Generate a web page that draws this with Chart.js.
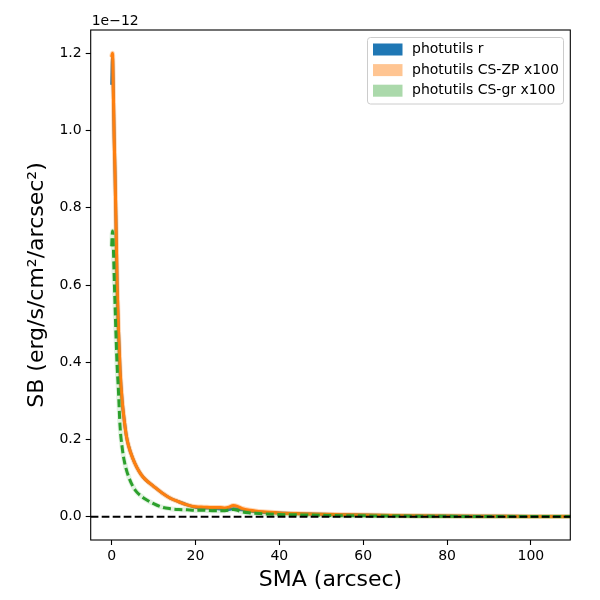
<!DOCTYPE html>
<html>
<head>
<meta charset="utf-8">
<script src="https://cdn.jsdelivr.net/npm/chart.js@4.4.0/dist/chart.umd.min.js"></script>
<style>
  body { margin: 0; background: #fff; }
  #wrap { width: 600px; height: 600px; }
</style>
</head>
<body>
<div id="wrap"><canvas id="sbChart" width="600" height="600"></canvas></div>
<script>
// SMA (arcsec) and surface brightness, SB values in units of 1e-12
var sma  = [0, 0.2, 0.4, 0.6, 0.8, 1.0, 1.3, 1.6, 2.0, 2.5, 3.0, 3.5, 4.0, 5.0, 6.0, 7.0, 8.0,
            10, 12, 14, 16, 18, 20, 22, 24, 26, 27, 28, 29, 30, 31, 33, 36, 40, 45, 50, 55,
            60, 70, 80, 90, 100, 110];
var sbR  = [1.118, 1.19, 1.10, 0.98, 0.89, 0.78, 0.60, 0.49, 0.38, 0.30, 0.25, 0.21, 0.185, 0.152, 0.128, 0.110, 0.097,
            0.079, 0.062, 0.048, 0.039, 0.031, 0.025, 0.023, 0.022, 0.020, 0.019, 0.019, 0.021, 0.020, 0.018, 0.015, 0.012, 0.010, 0.008, 0.0065, 0.0055,
            0.0045, 0.003, 0.002, 0.0015, 0.001, 0.001];
var sbZP = [1.19, 1.20, 1.10, 0.98, 0.89, 0.78, 0.60, 0.49, 0.38, 0.30, 0.25, 0.21, 0.185, 0.152, 0.128, 0.110, 0.097,
            0.079, 0.062, 0.048, 0.039, 0.031, 0.026, 0.025, 0.024, 0.024, 0.023, 0.025, 0.029, 0.027, 0.022, 0.017, 0.013, 0.010, 0.008, 0.0065, 0.0055,
            0.0045, 0.003, 0.002, 0.0015, 0.001, 0.001];
var sbGR = [0.70, 0.74, 0.70, 0.62, 0.55, 0.48, 0.39, 0.33, 0.235, 0.18, 0.145, 0.122, 0.105, 0.080, 0.064, 0.054, 0.046,
            0.034, 0.025, 0.021, 0.019, 0.018, 0.017, 0.017, 0.016, 0.016, 0.016, 0.017, 0.019, 0.017, 0.013, 0.010, 0.008, 0.006, 0.005, 0.004, 0.003,
            0.0025, 0.0018, 0.0012, 0.001, 0.0008, 0.0008];
var xTicks = [0, 20, 40, 60, 80, 100];
var yTicks = [0.0, 0.2, 0.4, 0.6, 0.8, 1.0, 1.2];
var legendLabels = ['photutils r', 'photutils CS-ZP x100', 'photutils CS-gr x100'];

var xMin = -5.0, xMax = 109.4, yMin = -0.060, yMax = 1.260;
var FONT = 'DejaVu Sans';

function pts(ys) {
    return sma.map(function (x, i) { return {x: x, y: ys[i]}; });
}

// frame, offset text and legend drawn on top
var extras = {
    id: 'extras',
    afterDraw: function (chart) {
        var ctx = chart.ctx, a = chart.chartArea;
        ctx.save();
        ctx.strokeStyle = '#000';
        ctx.lineWidth = 1.1;
        ctx.strokeRect(a.left, a.top, a.right - a.left, a.bottom - a.top);

        ctx.fillStyle = '#000';
        ctx.font = '14px "' + FONT + '"';
        ctx.textAlign = 'left';
        ctx.textBaseline = 'alphabetic';
        ctx.fillText('1e\u221212', a.left + 1, a.top - 5);

        // legend
        var lx = 367.5, ly = 37.5, lw = 196, lh = 66.5;
        ctx.beginPath();
        ctx.roundRect(lx, ly, lw, lh, 3);
        ctx.fillStyle = 'rgba(255,255,255,0.8)';
        ctx.fill();
        ctx.strokeStyle = '#cccccc';
        ctx.lineWidth = 1;
        ctx.stroke();
        var patch = ['#1f77b4', 'rgba(255,127,14,0.45)', 'rgba(44,160,44,0.4)'];
        for (var i = 0; i < legendLabels.length; i++) {
            var cy = 49.5 + i * 20.6;
            ctx.fillStyle = patch[i];
            ctx.fillRect(373, cy - 6, 29.5, 12);
            ctx.fillStyle = '#000';
            ctx.textBaseline = 'middle';
            ctx.fillText(legendLabels[i], 412, cy);
        }
        ctx.restore();
    }
};

var tickGrid = {
    display: true,
    drawOnChartArea: false,
    drawTicks: true,
    tickLength: 5,
    tickWidth: 1.1,
    tickColor: '#000'
};

new Chart(document.getElementById('sbChart'), {
    type: 'line',
    data: {
        datasets: [
            {
                label: 'zero',
                data: [{x: xMin, y: 0}, {x: xMax, y: 0}],
                borderColor: '#000',
                borderWidth: 2,
                borderDash: [7.7, 3.3]
            },
            {
                label: legendLabels[2],
                data: pts(sbGR),
                borderColor: '#2ca02c',
                borderWidth: 3,
                borderDash: [8, 3.5]
            },
            {
                label: legendLabels[2] + ' band',
                data: pts(sbGR),
                borderColor: 'rgba(44,160,44,0.14)',
                borderWidth: 5
            },
            {
                label: legendLabels[1],
                data: pts(sbZP),
                borderColor: '#ff7f0e',
                borderWidth: 3
            },
            {
                label: legendLabels[1] + ' band',
                data: pts(sbZP),
                borderColor: 'rgba(255,127,14,0.3)',
                borderWidth: 5
            },
            {
                label: legendLabels[0],
                data: pts(sbR),
                borderColor: '#1f77b4',
                borderWidth: 3
            }
        ]
    },
    options: {
        responsive: false,
        animation: false,
        devicePixelRatio: 1,
        layout: { padding: { top: 30, right: 29.7, left: 0, bottom: 0 } },
        elements: {
            point: { radius: 0 },
            line: { cubicInterpolationMode: 'monotone', fill: false }
        },
        plugins: {
            legend: { display: false },
            tooltip: { enabled: false }
        },
        scales: {
            x: {
                type: 'linear',
                min: xMin,
                max: xMax,
                afterFit: function (s) { s.height = 60; },
                afterBuildTicks: function (s) { s.ticks = xTicks.map(function (v) { return {value: v}; }); },
                border: { display: false },
                grid: tickGrid,
                ticks: {
                    color: '#000',
                    font: { family: FONT, size: 14 },
                    padding: 3,
                    maxRotation: 0,
                    callback: function (v) { return String(v); }
                },
                title: {
                    display: true,
                    text: 'SMA (arcsec)',
                    color: '#000',
                    font: { family: FONT, size: 22 },
                    padding: { top: 0, bottom: 7 }
                }
            },
            y: {
                type: 'linear',
                min: yMin,
                max: yMax,
                afterFit: function (s) { s.width = 90.7; },
                afterBuildTicks: function (s) { s.ticks = yTicks.map(function (v) { return {value: v}; }); },
                border: { display: false },
                grid: tickGrid,
                ticks: {
                    color: '#000',
                    font: { family: FONT, size: 14 },
                    padding: 4,
                    callback: function (v) { return v.toFixed(1); }
                },
                title: {
                    display: true,
                    text: 'SB (erg/s/cm\u00b2/arcsec\u00b2)',
                    color: '#000',
                    font: { family: FONT, size: 22 },
                    padding: { top: 24, bottom: 0 }
                }
            }
        }
    },
    plugins: [extras]
});
</script>
</body>
</html>
